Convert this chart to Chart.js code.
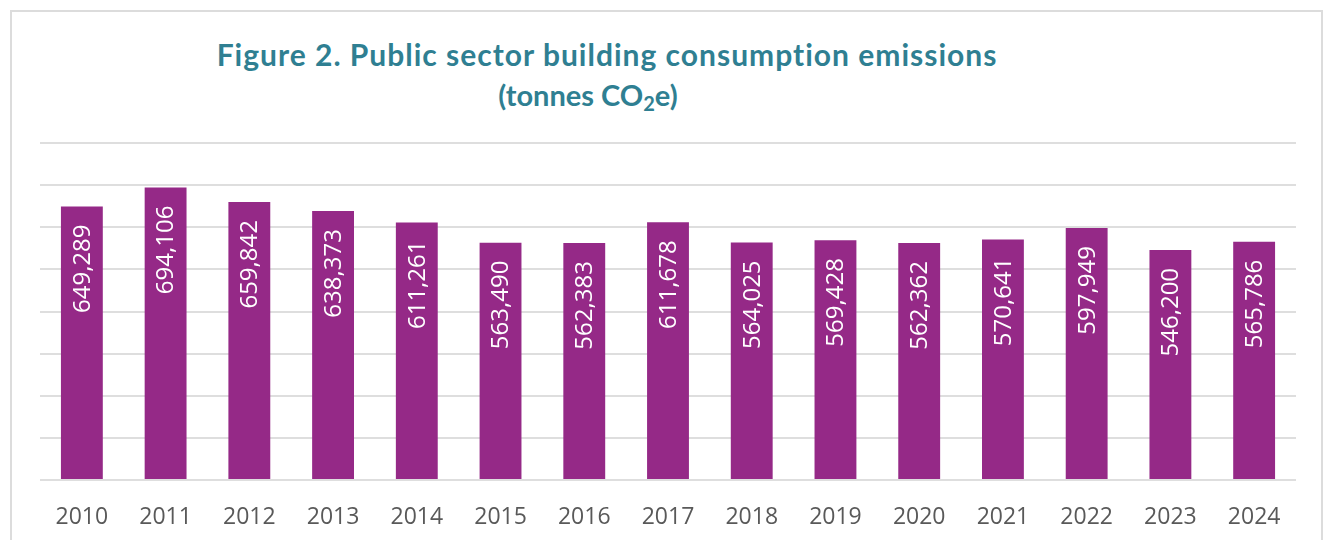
<!DOCTYPE html>
<html>
<head>
<meta charset="utf-8">
<script src="https://cdn.jsdelivr.net/npm/chart.js@4"></script>
<style>
    html, body { margin: 0; padding: 0; background: #fff; overflow: hidden; }
    #wrap { position: relative; width: 1327px; height: 540px; }
    #frame {
        position: absolute; left: 10px; top: 10px; width: 1313px; height: 600px;
        border: 2px solid #dcdcdc; box-sizing: border-box;
    }
    .title {
        position: absolute; top: 0; text-align: center;
        font-family: Lato, "Open Sans", sans-serif; font-weight: 700;
        color: #2f7f92; white-space: nowrap;
        font-variant-ligatures: none; font-feature-settings: "liga" 0;
    }
    #t1 { left: 0; width: 1214px; top: 36px; font-size: 30px; letter-spacing: 1px; }
    #t2 { left: 0; width: 1176px; top: 77px; font-size: 29px; }
    .title sub { font-size: 20px; vertical-align: -5px; line-height: 0; }
    canvas { position: absolute; left: 0; top: 0; }
</style>
</head>
<body>
<div id="wrap">
    <div id="frame"></div>
    <div class="title" id="t1">Figure 2. Public sector building consumption emissions</div>
    <div class="title" id="t2">(tonnes CO<sub>2</sub>e)</div>
    <canvas id="chart" width="1327" height="540"></canvas>
</div>
<script>
// ========================================
// DATA
// ========================================
const years = ['2010', '2011', '2012', '2013', '2014', '2015', '2016', '2017',
               '2018', '2019', '2020', '2021', '2022', '2023', '2024'];
const emissions = [649289, 694106, 659842, 638373, 611261, 563490, 562383, 611678,
                   564025, 569428, 562362, 570641, 597949, 546200, 565786];
const yMax = 800000;
const yStep = 100000;

// ========================================
// VALUE LABELS (rotated, inside bar top)
// ========================================
const barLabels = {
    id: 'barLabels',
    afterDatasetsDraw(chart) {
        const ctx = chart.ctx;
        const meta = chart.getDatasetMeta(0);
        ctx.save();
        ctx.fillStyle = '#ffffff';
        ctx.font = '24px "Open Sans", sans-serif';
        ctx.textAlign = 'right';
        ctx.textBaseline = 'middle';
        meta.data.forEach((bar, i) => {
            ctx.save();
            ctx.translate(bar.x + 1, bar.y + 18);
            ctx.rotate(-Math.PI / 2);
            ctx.fillText(emissions[i].toLocaleString('en-US'), 0, 0);
            ctx.restore();
        });
        ctx.restore();
    }
};

// ========================================
// CHART
// ========================================
new Chart(document.getElementById('chart').getContext('2d'), {
    type: 'bar',
    data: {
        labels: years,
        datasets: [{
            data: emissions,
            backgroundColor: '#952987',
            borderWidth: 0,
            barPercentage: 0.5,
            categoryPercentage: 1.0
        }]
    },
    options: {
        responsive: false,
        animation: false,
        layout: {
            padding: { left: 40, right: 31, top: 143, bottom: 0 }
        },
        plugins: {
            legend: { display: false },
            tooltip: { enabled: false }
        },
        scales: {
            x: {
                grid: { display: false, drawTicks: false },
                border: { display: false },
                ticks: {
                    color: '#595959',
                    padding: 24,
                    maxRotation: 0,
                    font: { family: '"Open Sans", sans-serif', size: 23 }
                },
                afterFit: function(scale) {
                    scale.height = 60;
                }
            },
            y: {
                min: 0,
                max: yMax,
                ticks: { display: false, stepSize: yStep },
                border: { display: false },
                grid: {
                    color: '#dedede',
                    lineWidth: 2,
                    drawTicks: false
                }
            }
        }
    },
    plugins: [barLabels]
});
</script>
</body>
</html>
